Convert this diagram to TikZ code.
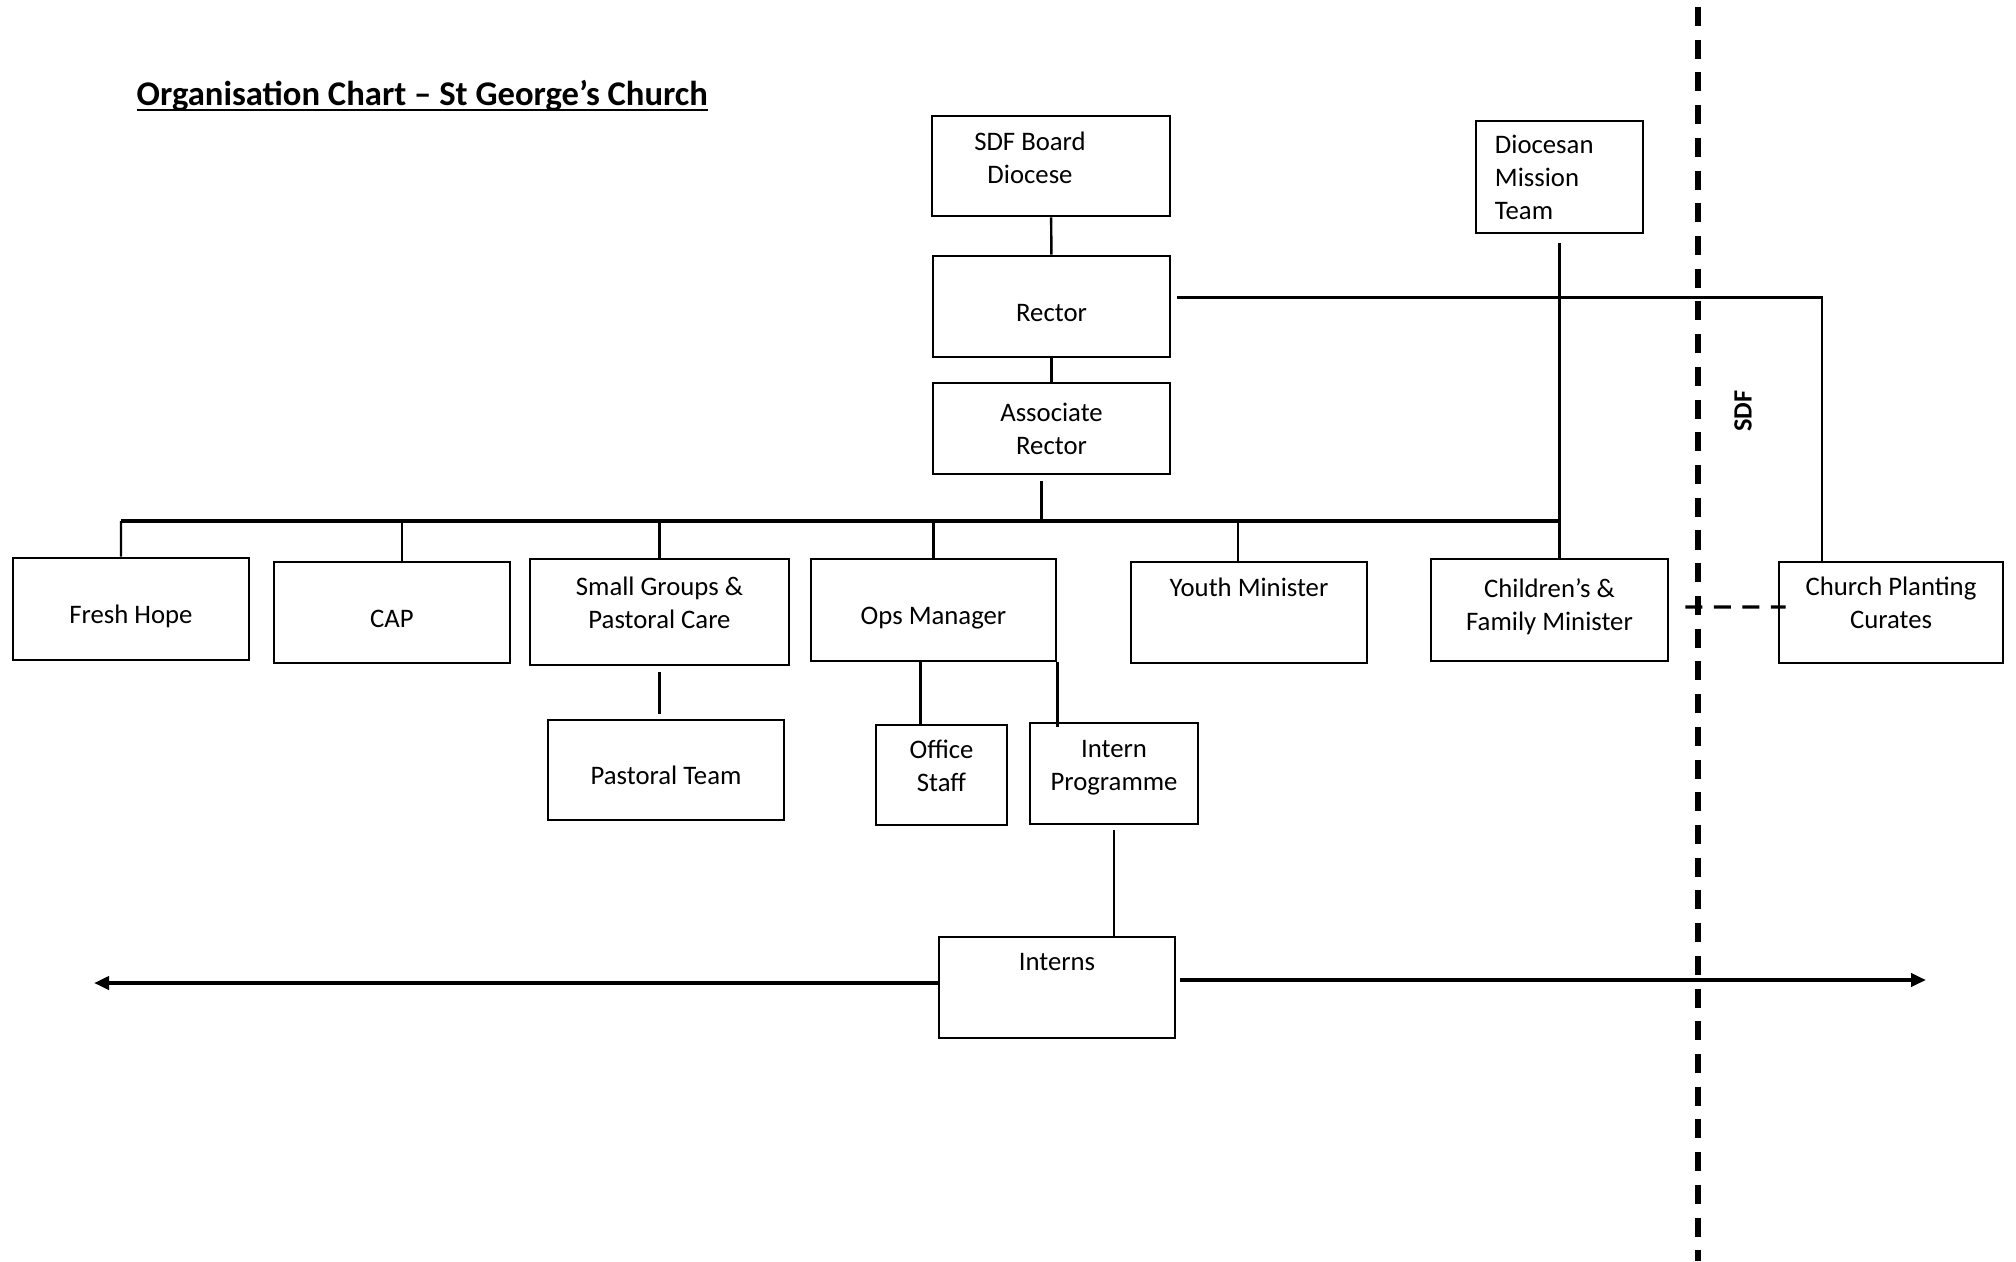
\documentclass[tikz,border=0pt]{standalone}
\usepackage{fontspec}
\setmainfont{Carlito}
\newcommand{\ulinetext}[1]{\setbox0\hbox{#1}\rlap{\rule[-1.45pt]{\wd0}{0.6pt}}\box0}
\usetikzlibrary{arrows.meta, positioning, calc}

\begin{document}
\begin{tikzpicture}[
        x=0.01cm, y=-0.01cm,
        box/.style={rectangle, draw, line width=0.7pt, inner sep=0pt, align=center, font=\fontsize{7.6}{9.4}\selectfont},
        oneline/.style={text height=0.34cm, text depth=0.05cm},
        txt/.style={align=center, inner sep=0pt, font=\fontsize{7.6}{9.4}\selectfont},
        line/.style={draw, line width=0.7pt},
        bus/.style={draw, line width=0.9pt},
        sdfline/.style={draw, line width=1.5pt, dash pattern=on 0.19cm off 0.137cm, dash phase=0.257cm},
        link/.style={draw, line width=0.9pt, dash pattern=on 0.17cm off 0.115cm},
        arrowline/.style={draw, line width=1.1pt, -{Triangle[length=0.15cm, width=0.13cm]}}
    ]
        \useasboundingbox (0,0) rectangle (2016,1261);

        \node [anchor=base west, inner sep=0pt, font=\fontsize{9.85}{11}\selectfont\bfseries] (title) at (136,106) {\ulinetext{Organisation Chart -- St George’s Church}};

        % top of the tree
        \node [box, minimum width=2.38cm, minimum height=1cm,
               label={[txt, name=sdftext, xshift=-0.21cm, yshift=0.08cm]center:SDF Board\\Diocese}] (sdf) at (1051,166) {};
        \node [box, oneline, minimum width=2.37cm, minimum height=1.01cm] (rector) at (1051.5,306.5) {Rector};
        \node [box, minimum width=2.37cm, minimum height=0.91cm] (assoc) at (1051.5,428.5) {Associate\\Rector};
        \node [box, align=left, text width=1.29cm, inner xsep=0.19cm, minimum height=1.12cm] (dmt) at (1559.5,177) {Diocesan\\Mission\\Team};

        % second row
        \node [box, oneline, minimum width=2.36cm, minimum height=1.02cm] (fh) at (131,609) {Fresh Hope};
        \node [box, oneline, minimum width=2.36cm, minimum height=1.01cm] (cap) at (392,612.5) {CAP};
        \node [box, minimum width=2.59cm, minimum height=1.06cm,
               label={[txt, name=sgtext, yshift=0.09cm]center:Small Groups \&\\Pastoral Care}] (sg) at (659.5,612) {};
        \node [box, oneline, minimum width=2.45cm, minimum height=1.02cm] (ops) at (933.5,610) {Ops Manager};
        \node [box, minimum width=2.36cm, minimum height=1.01cm,
               label={[txt, name=ymtext, yshift=0.25cm]center:Youth Minister}] (ym) at (1249,612.5) {};
        \node [box, minimum width=2.37cm, minimum height=1.02cm,
               label={[txt, name=cfmtext, yshift=0.035cm]center:Children’s \&\\Family Minister}] (cfm) at (1549.5,610) {};
        \node [box, minimum width=2.24cm, minimum height=1.01cm,
               label={[txt, name=cpctext, yshift=0.095cm]center:Church Planting\\Curates}] (cpc) at (1891,612.5) {};

        % third row
        \node [box, oneline, minimum width=2.36cm, minimum height=1cm] (pt) at (666,770) {Pastoral Team};
        \node [box, minimum width=1.31cm, minimum height=1cm,
               label={[txt, name=ostext, yshift=0.09cm]center:Office\\Staff}] (os) at (941.5,775) {};
        \node [box, minimum width=1.68cm, minimum height=1.01cm,
               label={[txt, name=iptext, yshift=0.06cm]center:Intern\\Programme}] (ip) at (1114,773.5) {};
        \node [box, minimum width=2.36cm, minimum height=1.01cm,
               label={[txt, name=internstext, yshift=0.25cm]center:Interns}] (interns) at (1057,987.5) {};

        % SDF boundary
        \coordinate (sdftop) at (1698,0);
        \coordinate (sdfbot) at (1698,1261);
        \path [sdfline] (sdftop) -- (sdfbot);
        \node [rotate=90, inner sep=0pt, font=\fontsize{7.5}{9}\selectfont\bfseries] (sdflabel) at (1743,411) {SDF};

        % connectors
        \coordinate (busl) at (121,521);
        \coordinate (busr) at (1559.5,521);
        \path [line] (sdf) -- (rector);
        \path [line] (rector) -- (assoc);
        \path [bus] (busl) -- (busr);
        \path [line, shorten <=0.06cm] ([xshift=-0.1cm]assoc.south) -- ([xshift=-0.1cm]assoc.south |- busl);
        \path [line] (busl) -- ([xshift=-0.1cm]fh.north);
        \path [line] ([xshift=0.1cm]cap.north |- busl) -- ([xshift=0.1cm]cap.north);
        \path [line] (sg.north |- busl) -- (sg.north);
        \path [line] (ops.north |- busl) -- (ops.north);
        \path [line] ([xshift=-0.11cm]ym.north |- busl) -- ([xshift=-0.11cm]ym.north);
        \path [line, shorten <=0.09cm] (dmt.south) -- (dmt.south |- cfm.north);
        \path [line] ([xshift=0.06cm, yshift=0.09cm]rector.east) -| ([xshift=0.44cm]cpc.north west);
        \path [link] ([xshift=0.16cm, yshift=0.03cm]cfm.east) -- ([xshift=0.08cm, yshift=0.055cm]cpc.west);

        \path [line, shorten <=0.06cm, shorten >=0.05cm] (sg.south) -- (sg.south |- pt.north);
        \path [line] ([xshift=-0.21cm]os.north |- ops.south) -- ([xshift=-0.21cm]os.north);
        \path [line, shorten >=-0.05cm] (ops.south east) -- (ops.south east |- ip.north);
        \path [line, shorten <=0.05cm] (ip.south) -- (ip.south |- interns.north);

        \coordinate (westend) at (94,983);
        \coordinate (eastend) at (1926,980);
        \path [arrowline] (interns.west |- westend) -- (westend);
        \path [arrowline, shorten <=0.04cm] (interns.east |- eastend) -- (eastend);
\end{tikzpicture}
\end{document}
